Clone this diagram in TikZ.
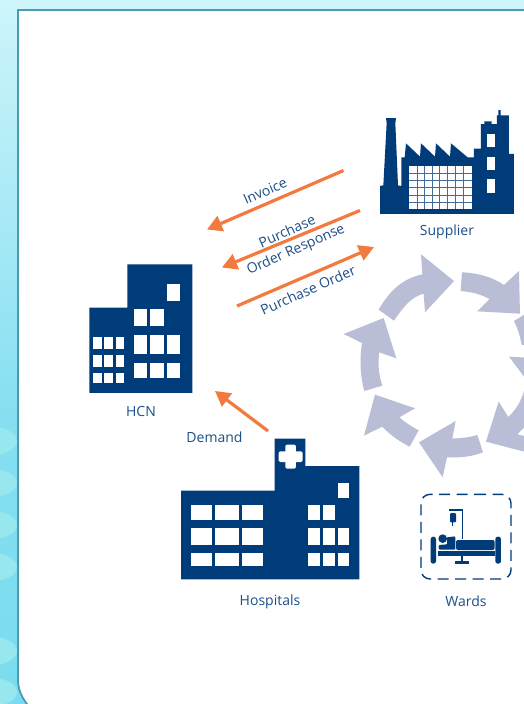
\documentclass[tikz,border=0pt]{standalone}
\usepackage{fontspec}
\setmainfont{Open Sans}
\usetikzlibrary{arrows.meta}
\definecolor{navy}{HTML}{003B7A}
\definecolor{labelc}{HTML}{1C4F8A}
\definecolor{orangec}{HTML}{F37A3E}
\definecolor{cyclec}{HTML}{B9BDD6}
\definecolor{framec}{HTML}{4A9DB0}
\definecolor{bubble}{HTML}{97E8EE}
\tikzset{
  bld/.style={fill=navy,draw=none},
  win/.style={fill=white,draw=none},
  cyc/.style={fill=cyclec,draw=none},
  lab/.style={text=labelc,font=\fontsize{14}{16}\selectfont,inner sep=0pt},
  flow/.style={draw=orangec,line width=3.2pt,-{Triangle[length=15pt,width=16pt]}},
}
\begin{document}
\begin{tikzpicture}[x=1pt,y=-1pt]
\useasboundingbox (0,0) rectangle (524,704);
\clip (0,0) rectangle (524,704);
% background
\shade[top color={rgb,255:red,206;green,245;blue,251},bottom color={rgb,255:red,134;green,223;blue,241}] (0,0) rectangle (524,410);
\shade[top color={rgb,255:red,134;green,223;blue,241},bottom color={rgb,255:red,122;green,220;blue,240}] (0,410) rectangle (524,704);
\foreach \yy in {441,483,525,567,651,692}{
  \fill[bubble] (-8,\yy) ellipse [x radius=25,y radius=14];
}
% panel
\draw[framec,line width=1.8pt,fill=white] (530,10) -- (18,10) -- (18,680) .. controls (18,692) and (24,702) .. (34,712) -- (530,712) -- cycle;

% cycle arrows
\begin{scope}[shift={(335,245)},scale=0.3333]
\fill[cyc] (131,194) .. controls (165,135) and (205,100) .. (262,88) -- (258,28) -- (357,108) -- (270,202) -- (266,146) .. controls (230,155) and (205,185) .. (177,227) -- cycle;
\fill[cyc] (381,82) .. controls (430,84) and (472,96) .. (507,120) -- (552,78) -- (555,206) -- (427,199) -- (464,162) .. controls (435,147) and (410,141) .. (377,138) -- cycle;
\fill[cyc] (537,228) .. controls (548,250) and (556,275) .. (560,300) -- (575,300) -- (575,205) -- cycle;
\fill[cyc] (522,335) -- (575,338) -- (575,405) -- cycle;
\fill[cyc] (575,430) -- (567,438) .. controls (558,470) and (542,495) .. (520,516) -- (491,470) -- (453,590) -- (575,622) -- (575,575) -- (547,568) -- (575,540) -- cycle;
\fill[cyc] (427,570) .. controls (402,577) and (378,581) .. (352,580) -- (362,528) -- (252,592) -- (323,697) -- (336,637) .. controls (375,639) and (410,635) .. (444,622) -- cycle;
\fill[cyc] (251,556) -- (224,605) .. controls (195,590) and (165,570) .. (142,545) -- (87,572) -- (120,449) -- (240,490) -- (193,517) .. controls (210,532) and (230,545) .. (251,556) -- cycle;
\fill[cyc] (88,438) .. controls (76,395) and (73,345) .. (81,294) -- (26,267) -- (146,219) -- (184,340) -- (133,322) .. controls (128,355) and (131,390) .. (142,422) -- cycle;
\end{scope}

% supplier factory
\begin{scope}[shift={(370,110)},scale=0.3333]
\fill[bld] (30,312) -- (30,228) -- (40,226) -- (50,40) -- (48,24) -- (78,24) -- (76,40) -- (84,226) -- (94,228) -- (94,142) -- (104,142) -- (108,100) -- (150,140) -- (153,100) -- (195,140) -- (198,100) -- (240,140) -- (243,100) -- (293,142) -- (312,142) -- (312,116) -- (333,116) -- (333,42) -- (343,42) -- (343,34) -- (365,34) -- (365,42) -- (381,42) -- (381,16) -- (385,16) -- (385,0) -- (392,0) -- (392,16) -- (417,16) -- (417,132) -- (432,132) -- (432,312) -- cycle;
\foreach \ya/\yb in {72/112,140/180,208/248}{\fill[win] (352,\ya) rectangle (376,\yb);}
\fill[win] (116,168) rectangle (307,298);
\foreach \gx in {141,164.5,187,209.5,232.5,255.5,280.5}{
  \draw[navy!75,line width=0.9pt] (\gx,168) -- (\gx,298);
}
\foreach \gy in {190,211.5,233.5,255.5,277.5}{
  \draw[navy!75,line width=0.9pt] (116,\gy) -- (307,\gy);
}
\end{scope}
\node[lab] (supplier) at (447,232) {Supplier};

% HCN building
\begin{scope}[shift={(80,255)},scale=0.3333]
\fill[bld] (28,158) -- (142,158) -- (142,28) -- (337,28) -- (337,414) -- (28,414) -- cycle;
\fill[win] (262,88) rectangle (301,139);
\fill[win] (162,162) rectangle (201,214);
\fill[win] (211,162) rectangle (252,214);
\foreach \xa/\xb in {162/201,211/252,262/301}{
  \fill[win] (\xa,240) rectangle (\xb,297);
  \fill[win] (\xa,324) rectangle (\xb,370);
}
\foreach \xa/\xb in {40/67,73/100,107/133}{
  \foreach \ya/\yb in {247/282,300/336,355/385}{
    \fill[win] (\xa,\ya) rectangle (\xb,\yb);
  }
}
\end{scope}
\node[lab] (hcn) at (141,411) {HCN};

% hospital
\begin{scope}[shift={(170,430)},scale=0.3333]
\fill[bld] (33,182) -- (314,182) -- (314,26) -- (406,26) -- (406,108) -- (568,108) -- (568,448) -- (33,448) -- cycle;
\fill[win,rounded corners=1.5pt] (326,64) rectangle (398,96);
\fill[win,rounded corners=1.5pt] (346,44) rectangle (378,116);
\fill[win] (503,160) rectangle (537,205);
\foreach \ya/\yb in {225/271,294/344,368/407}{
  \foreach \xa/\xb in {63/127,135/208,216/278}{\fill[win] (\xa,\ya) rectangle (\xb,\yb);}
  \foreach \xa/\xb in {415/450,459/494}{\fill[win] (\xa,\ya) rectangle (\xb,\yb);}
}
\foreach \ya/\yb in {294/344,368/407}{\fill[win] (503,\ya) rectangle (537,\yb);}
\end{scope}
\node[lab] (hospitals) at (270,602) {Hospitals};

% wards
\begin{scope}[shift={(410,485)},scale=0.3333]
\draw[navy,line width=1.4pt,rounded corners=9pt,dash pattern=on 11pt off 6.5pt] (168,28) -- (303,28) -- (303,282) -- (33,282) -- (33,28) -- cycle;
\draw[navy,line width=1.5pt] (118,75) -- (158,75) -- (158,162);
\fill[bld,rounded corners=1pt] (120,84) rectangle (138,112);
\draw[navy,line width=1pt] (128,112) -- (128,124);
\fill[bld,rounded corners=2.5pt] (62,155) rectangle (78,236);
\fill[bld,rounded corners=2.5pt] (256,155) rectangle (273,236);
\fill[bld,rounded corners=2pt] (138,165) -- (254,165) -- (254,195) -- (138,195) -- cycle;
\fill[bld] (84,198) rectangle (256,212);
\fill[bld] (98,161) circle (13);
\fill[bld,rounded corners=1pt] (86,180) -- (112,178) -- (110,157) -- (136,154) -- (136,194) -- (86,194) -- cycle;
\fill[bld] (153,212) rectangle (158,232);
\fill[bld] (135,228) rectangle (177,236);
\end{scope}
\node[lab] (wards) at (466,601.5) {Wards};

% flow arrows
\coordinate (invS) at (343.5,170.5);
\coordinate (invE) at (207,229.5);
\coordinate (purS) at (360,210.5);
\coordinate (purE) at (222,267.5);
\coordinate (poS) at (237,306);
\coordinate (poE) at (374,247);
\coordinate (demS) at (268,431);
\coordinate (demE) at (215,391);
\draw[flow] (invS) -- (invE);
\draw[flow] (purS) -- (purE);
\draw[flow] (poS) -- (poE);
\draw[flow] (demS) -- (demE);
\node[lab,rotate=24] (invoice) at (265,191) {Invoice};
\node[lab,rotate=24] (purchase) at (287,231) {Purchase};
\node[lab,rotate=24] (orderresp) at (296,250) {Order Response};
\node[lab,rotate=24] (purchaseorder) at (308,290) {Purchase Order};
\node[lab] (demand) at (214.5,437.5) {Demand};
\end{tikzpicture}
\end{document}
